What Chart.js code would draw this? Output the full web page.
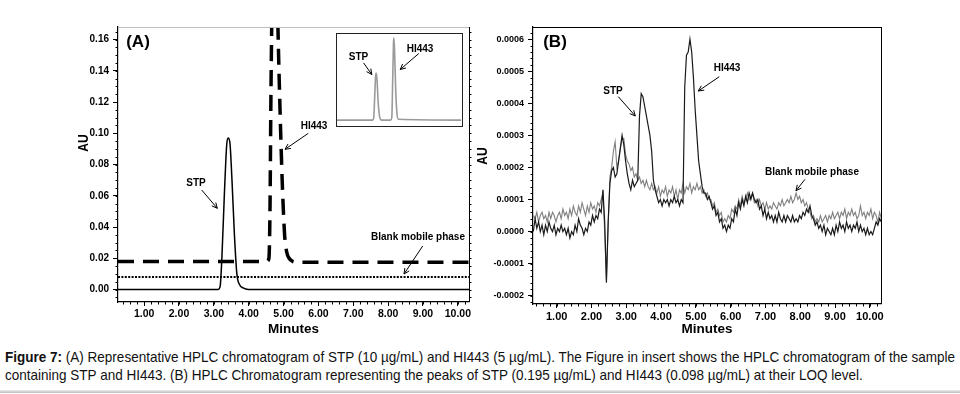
<!DOCTYPE html>
<html>
<head>
<meta charset="utf-8">
<script src="https://cdn.jsdelivr.net/npm/chart.js@4.4.1/dist/chart.umd.min.js"></script>
<style>
  html, body { margin: 0; padding: 0; background: #fff; }
  body { width: 960px; height: 394px; position: relative; overflow: hidden; }
  .box { position: absolute; }
  #wrapA { left: 0; top: 0; }
  #wrapB { left: 474px; top: 0; }
  #wrapIns { left: 336px; top: 33px; width: 127px; height: 94px; border: 1.5px solid #222; box-sizing: border-box; background: #fff; }
  #wrapIns canvas { display: block; }
  .cap { position: absolute; left: 5px; white-space: nowrap; font-family: "Liberation Sans", Arial, sans-serif; font-size: 14.5px; line-height: 16px; color: #111; transform-origin: 0 0; }
  #cap1 { top: 349px; }
  #cap2 { top: 367px; }
  #rule { position: absolute; left: 0; top: 390px; width: 960px; height: 3px; background: linear-gradient(#ececec, #bdbdbd); }
</style>
</head>
<body>
<div class="box" id="wrapA"><canvas id="chartA" width="474" height="340"></canvas></div>
<div class="box" id="wrapB"><canvas id="chartB" width="486" height="340"></canvas></div>
<div class="box" id="wrapIns"><canvas id="chartIns" width="124" height="91"></canvas></div>
<div class="cap" id="cap1"><b>Figure 7:</b> (A) Representative HPLC chromatogram of STP (10 µg/mL) and HI443 (5 µg/mL). The Figure in insert shows the HPLC chromatogram of the sample</div>
<div class="cap" id="cap2">containing STP and HI443. (B) HPLC Chromatogram representing the peaks of STP (0.195 µg/mL) and HI443 (0.098 µg/mL) at their LOQ level.</div>
<div id="rule"></div>
<script>
// ---- panel A (AU vs minutes) ----
const minuteTicks = [1, 2, 3, 4, 5, 6, 7, 8, 9, 10];
const auTicksA = [0, 0.02, 0.04, 0.06, 0.08, 0.10, 0.12, 0.14, 0.16];

const stpTimesA = [0.25, 3.12, 3.18, 3.23, 3.30, 3.37, 3.41, 3.46, 3.52, 3.59, 3.66, 3.74, 3.84, 3.99, 10.32];
const stpA = [0, 0, 0.002, 0.02, 0.06, 0.093, 0.097, 0.094, 0.07, 0.035, 0.01, 0.003, 0.001, 0, 0];

const hiTimesA = [0.25, 4.52, 4.58, 4.61, 4.64, 4.70, 4.74, 4.80, 4.88, 4.96, 5.03, 5.09, 5.16, 5.26, 5.39, 10.32];
const hiA = [0.018, 0.018, 0.02, 0.05, 0.13, 0.22, 0.23, 0.20, 0.13, 0.07, 0.035, 0.024, 0.02, 0.018, 0.0175, 0.0175];

const blankTimesA = [0.25, 10.32];
const blankA = [0.008, 0.008];

// insert (relative height, HI443 peak = 1)
const insTimes = [0.41, 3.10, 3.18, 3.25, 3.32, 3.37, 3.43, 3.52, 3.62, 3.75, 4.45, 4.55, 4.62, 4.68, 4.71, 4.76, 4.84, 4.93, 5.05, 9.78];
const insVals = [0, 0, 0.02, 0.25, 0.52, 0.575, 0.5, 0.22, 0.05, 0, 0, 0.03, 0.5, 0.95, 1.0, 0.85, 0.4, 0.1, 0.01, 0];

// ---- panel B (units of 1e-4 AU), detector sampled every 0.05 min from 0.33 ----
const auTicksB = [-0.0002, -0.0001, 0, 0.0001, 0.0002, 0.0003, 0.0004, 0.0005, 0.0006];
const B_START = 0.33, B_STEP = 0.05;
const sampleB = [
  0.0, 0.4, 0.1, 0.3, 0.0, 0.2, -0.1, 0.2, 0.0, 0.3, 0.1, 0.0, 0.2, -0.1, 0.1, 0.0, 0.2, 0.0, 0.1, -0.1,
  0.1, -0.2, 0.0, -0.1, 0.2, 0.0, 0.4, 0.2, 0.1, -0.1, 0.1, 0.0, 0.3, 0.2, 0.5, 0.3, 0.5, 0.4, 0.7, 0.6,
  1.3, 0.3, -1.6, 0.3, 1.5, 1.9, 2.0, 1.7, 1.8, 2.2, 2.6, 3.0, 2.7, 2.2, 1.8, 1.5, 1.3, 1.6, 1.4, 1.5,
  1.6, 3.6, 4.3, 4.2, 3.9, 3.6, 3.3, 3.0, 2.5, 1.6, 1.3, 1.1, 0.9, 1.0, 0.8, 1.0, 0.9, 1.0, 0.8, 1.0,
  0.9, 1.1, 0.9, 1.0, 0.8, 1.0, 0.9, 4.5, 5.5, 5.6, 6.0, 5.6, 4.8, 3.8, 3.0, 2.2, 1.8, 1.4, 1.2, 1.2,
  1.0, 1.1, 0.9, 0.7, 0.8, 0.5, 0.6, 0.3, 0.4, 0.1, 0.2, 0.0, 0.2, 0.1, 0.4, 0.3, 0.7, 0.5, 0.9, 0.7,
  1.0, 0.8, 1.1, 0.9, 1.2, 1.0, 1.2, 1.0, 0.9, 1.0, 0.7, 0.8, 0.5, 0.7, 0.4, 0.6, 0.4, 0.5, 0.3, 0.5,
  0.3, 0.6, 0.4, 0.3, 0.5, 0.3, 0.5, 0.4, 0.3, 0.5, 0.3, 0.4, 0.3, 0.5, 0.4, 0.6, 0.5, 0.7, 0.6, 0.8,
  0.5, 0.4, 0.2, 0.3, 0.1, 0.2, 0.0, 0.2, -0.1, 0.1, 0.0, -0.1, 0.1, -0.1, 0.2, 0.0, 0.3, 0.1, 0.2, 0.0,
  0.3, 0.1, 0.2, 0.0, 0.2, 0.1, 0.3, 0.0, 0.2, 0.0, 0.1, -0.1, 0.1, -0.1, 0.0, -0.1, 0.1, 0.3, 0.2, 0.4,
  0.3
];
const blankB = [
  0.5, 0.4, 0.6, 0.3, 0.5, 0.6, 0.4, 0.5, 0.3, 0.6, 0.4, 0.6, 0.5, 0.3, 0.5, 0.6, 0.4, 0.7, 0.5, 0.6,
  0.4, 0.7, 0.5, 0.8, 0.6, 0.5, 0.8, 0.6, 0.9, 0.7, 0.5, 0.8, 0.6, 0.9, 0.7, 0.8, 0.6, 0.9, 0.8, 1.0,
  1.2, 0.0, -1.5, 0.2, 1.7, 2.0, 2.5, 2.8, 2.0, 2.2, 2.6, 2.9, 2.9, 2.4, 2.2, 2.1, 1.9, 2.0, 1.7, 1.8,
  1.6, 1.7, 1.5, 1.6, 1.4, 1.6, 1.4, 1.3, 1.5, 1.3, 1.4, 1.2, 1.4, 1.1, 1.3, 1.2, 1.4, 1.1, 1.3, 1.2,
  1.4, 1.1, 1.3, 1.0, 1.3, 1.2, 1.5, 1.2, 1.4, 1.3, 1.5, 1.2, 1.4, 1.3, 1.5, 1.3, 1.4, 1.2, 1.3, 1.1,
  1.2, 1.0, 1.0, 0.8, 0.9, 0.6, 0.7, 0.5, 0.6, 0.3, 0.4, 0.3, 0.5, 0.4, 0.7, 0.6, 0.8, 0.7, 1.0, 0.8,
  1.1, 0.9, 1.0, 1.2, 1.0, 1.1, 1.2, 0.9, 1.0, 0.8, 1.0, 0.8, 0.9, 0.7, 0.9, 0.7, 0.8, 0.7, 0.9, 0.8,
  0.7, 0.9, 0.8, 1.0, 0.8, 0.9, 1.0, 0.9, 1.1, 0.9, 1.0, 1.2, 1.0, 1.1, 0.9, 1.0, 0.8, 0.9, 0.7, 0.6,
  0.4, 0.5, 0.3, 0.4, 0.3, 0.5, 0.3, 0.4, 0.5, 0.3, 0.5, 0.4, 0.6, 0.4, 0.5, 0.6, 0.4, 0.6, 0.5, 0.7,
  0.4, 0.6, 0.5, 0.7, 0.5, 0.6, 0.4, 0.5, 0.8, 0.5, 0.6, 0.4, 0.6, 0.5, 0.7, 0.4, 0.6, 0.5, 0.3, 0.6,
  0.4
];

const SANS = '"Liberation Sans", Arial, sans-serif';

function toXY(xs, ys) {
  return xs.map((x, i) => ({ x, y: ys[i] }));
}
function sampled(vals) {
  return vals.map((v, i) => ({ x: B_START + i * B_STEP, y: v * 1e-4 }));
}

// minor ticks, frame lines, labels and arrows
function decorPlugin(d) {
  return {
    id: 'decor',
    afterDraw(chart) {
      const ctx = chart.ctx;
      const a = chart.chartArea;
      const xs = chart.scales.x, ys = chart.scales.y;
      const seg = (x1, y1, x2, y2) => { ctx.beginPath(); ctx.moveTo(x1, y1); ctx.lineTo(x2, y2); ctx.stroke(); };
      ctx.save();
      ctx.lineWidth = 1;
      ctx.strokeStyle = '#000';
      if (d.xMinor) {
        for (let k = Math.ceil(xs.min / d.xMinor); k * d.xMinor <= xs.max; k++) {
          const p = Math.round(xs.getPixelForValue(k * d.xMinor)) + 0.5;
          seg(p, a.bottom, p, a.bottom + 2.5);
        }
      }
      if (d.yMinor) {
        for (let k = Math.ceil(ys.min / d.yMinor); k * d.yMinor <= ys.max; k++) {
          const p = Math.round(ys.getPixelForValue(k * d.yMinor)) + 0.5;
          seg(a.left - 2.5, p, a.left, p);
          if (d.rightTicks) seg(a.right, p, a.right + 2.5, p);
        }
      }
      if (d.frameTop) { ctx.strokeStyle = d.frameTop; seg(a.left, a.top + 0.5, a.right + 1, a.top + 0.5); }
      if (d.frameRight) { ctx.strokeStyle = d.frameRight; seg(a.right + 0.5, a.top, a.right + 0.5, a.bottom); }
      ctx.strokeStyle = '#000';
      ctx.fillStyle = '#000';
      (d.arrows || []).forEach(([x1, y1, x2, y2]) => {
        seg(x1, y1, x2, y2);
        const ang = Math.atan2(y2 - y1, x2 - x1);
        [0.45, -0.45].forEach((s) => seg(x2, y2, x2 - 6 * Math.cos(ang + s), y2 - 6 * Math.sin(ang + s)));
      });
      (d.texts || []).forEach((t) => {
        ctx.font = t.font;
        ctx.textAlign = 'center';
        ctx.textBaseline = 'middle';
        ctx.save();
        ctx.translate(t.x, t.y);
        if (t.rot) ctx.rotate(-Math.PI / 2);
        if (t.narrow) ctx.scale(t.narrow, 1);
        ctx.fillText(t.text, 0, 0);
        ctx.restore();
      });
      ctx.restore();
    }
  };
}

function axisX(min, max, fontSize, height) {
  return {
    type: 'linear', min, max,
    afterBuildTicks: (s) => { s.ticks = minuteTicks.map((v) => ({ value: v })); },
    afterFit: (s) => { s.height = height; s.paddingLeft = 0; s.paddingRight = 0; },
    ticks: { callback: (v) => Number(v).toFixed(2), color: '#000', padding: 2, maxRotation: 0, autoSkip: false,
      font: { family: SANS, size: fontSize, weight: 'bold' } },
    grid: { display: true, drawOnChartArea: false, drawTicks: true, tickLength: 4, color: '#000', lineWidth: 1 },
    border: { display: true, color: '#000', width: 1.2 },
    title: { display: true, text: 'Minutes', color: '#000', padding: { top: 0, bottom: 3 },
      font: { family: SANS, size: 13.5, weight: 'bold' } }
  };
}

function axisY(min, max, tickVals, digits, fontSize, width) {
  return {
    type: 'linear', min, max,
    afterBuildTicks: (s) => { s.ticks = tickVals.map((v) => ({ value: v })); },
    afterFit: (s) => { s.width = width; s.paddingTop = 0; s.paddingBottom = 0; },
    ticks: { callback: (v) => Number(v).toFixed(digits), color: '#000', padding: 4,
      font: { family: SANS, size: fontSize, weight: 'bold' } },
    grid: { display: true, drawOnChartArea: false, drawTicks: true, tickLength: 5, color: '#000', lineWidth: 1 },
    border: { display: true, color: '#000', width: 1.2 }
  };
}

const lineBase = { pointRadius: 0, fill: false, clip: 0, cubicInterpolationMode: 'monotone', borderColor: '#000' };

new Chart(document.getElementById('chartA'), {
  type: 'line',
  data: {
    datasets: [
      { ...lineBase, label: 'STP', data: toXY(stpTimesA, stpA), borderWidth: 1.5 },
      { ...lineBase, label: 'HI443', data: toXY(hiTimesA, hiA), borderWidth: 3.5, borderDash: [16, 9] },
      { ...lineBase, label: 'Blank mobile phase', data: toXY(blankTimesA, blankA), borderWidth: 2, borderDash: [2, 1.4] }
    ]
  },
  options: {
    responsive: false,
    animation: false,
    layout: { padding: { top: 27, right: 5, left: 0, bottom: 0 } },
    plugins: { legend: { display: false }, tooltip: { enabled: false } },
    scales: {
      x: axisX(0.25, 10.32, 10.5, 38),
      y: axisY(-0.008, 0.168, auTicksA, 2, 10, 118)
    }
  },
  plugins: [decorPlugin({
    xMinor: 0.2, yMinor: 0.005, rightTicks: true, frameTop: '#bdbdbd', frameRight: '#000',
    texts: [
      { text: '(A)', x: 138, y: 42, font: 'bold 17px ' + SANS },
      { text: 'STP', x: 196, y: 183, font: 'bold 10px ' + SANS },
      { text: 'HI443', x: 314, y: 126, font: 'bold 10px ' + SANS },
      { text: 'Blank mobile phase', x: 418, y: 237, font: 'bold 10px ' + SANS },
      { text: 'AU', x: 84, y: 143, font: 'bold 15px ' + SANS, rot: true, narrow: 0.8 }
    ],
    arrows: [[201.7, 190, 217.3, 208.3], [308.3, 133.3, 285, 149.3], [422.7, 246, 404, 274]]
  })]
});

new Chart(document.getElementById('chartIns'), {
  type: 'line',
  data: {
    datasets: [
      { ...lineBase, label: 'Sample', data: toXY(insTimes, insVals), borderWidth: 1.6, borderColor: '#9a9a9a' }
    ]
  },
  options: {
    responsive: false,
    animation: false,
    layout: { padding: 0 },
    plugins: { legend: { display: false }, tooltip: { enabled: false } },
    scales: {
      x: { type: 'linear', min: 0.41, max: 9.78, display: false },
      y: { type: 'linear', min: -0.06, max: 1.05, display: false }
    }
  },
  plugins: [decorPlugin({
    texts: [
      { text: 'STP', x: 21.5, y: 23, font: 'bold 10px ' + SANS },
      { text: 'HI443', x: 83, y: 15, font: 'bold 10px ' + SANS }
    ],
    arrows: [[26.5, 28.8, 34.8, 40.5], [81.8, 19.5, 63.2, 35.5]]
  })]
});

new Chart(document.getElementById('chartB'), {
  type: 'line',
  data: {
    datasets: [
      { ...lineBase, label: 'Sample', data: sampled(sampleB), borderWidth: 1.2, borderColor: '#1a1a1a', cubicInterpolationMode: 'default', tension: 0 },
      { ...lineBase, label: 'Blank mobile phase', data: sampled(blankB), borderWidth: 1.1, borderColor: '#808080', cubicInterpolationMode: 'default', tension: 0 }
    ]
  },
  options: {
    responsive: false,
    animation: false,
    layout: { padding: { top: 27, right: 79, left: 0, bottom: 0 } },
    plugins: { legend: { display: false }, tooltip: { enabled: false } },
    scales: {
      x: axisX(0.32, 10.32, 11, 36),
      y: axisY(-0.000226, 0.000638, auTicksB, 4, 9, 59)
    }
  },
  plugins: [decorPlugin({
    xMinor: 0.2, yMinor: 0.00002, frameTop: '#000', frameRight: '#000',
    texts: [
      { text: '(B)', x: 81, y: 42, font: 'bold 17px ' + SANS },
      { text: 'STP', x: 139, y: 91, font: 'bold 10px ' + SANS },
      { text: 'HI443', x: 253, y: 68, font: 'bold 10px ' + SANS },
      { text: 'Blank mobile phase', x: 338, y: 172, font: 'bold 10px ' + SANS },
      { text: 'AU', x: 9, y: 156, font: 'bold 15px ' + SANS, rot: true, narrow: 0.8 }
    ],
    arrows: [[144.3, 96.7, 161.3, 116], [245.3, 76.7, 224.3, 91], [331, 179.3, 322, 190.7]]
  })]
});

// fit the caption lines to the reference width
const cap1 = document.getElementById('cap1');
const cap2 = document.getElementById('cap2');
const k = 950 / cap1.getBoundingClientRect().width;
[cap1, cap2].forEach((el) => { el.style.transform = 'scaleX(' + k + ')'; });
</script>
</body>
</html>
